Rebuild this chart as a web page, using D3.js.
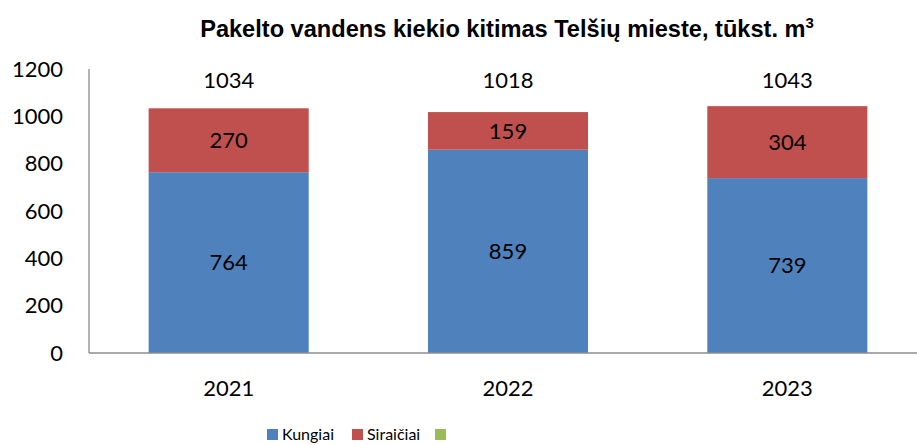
<!DOCTYPE html>
<html>
<head>
<meta charset="utf-8">
<script src="https://cdn.jsdelivr.net/npm/d3@7"></script>
<style>
  body { margin: 0; background: #fff; }
  svg { display: block; }
</style>
</head>
<body>
<svg id="chart" width="917" height="445"></svg>
<script>
const years = ['2021', '2022', '2023'];
const kungiai = [764, 859, 739];
const siraiciai = [270, 159, 304];
const totals = [1034, 1018, 1043];
const yTicks = [0, 200, 400, 600, 800, 1000, 1200];

const svg = d3.select('#chart');
const labelFont = 'Lato, "Open Sans", sans-serif';

const x = d3.scaleBand()
  .domain(years)
  .range([89, 927])
  .paddingInner(0.427)
  .paddingOuter(0.2135);
const y = d3.scaleLinear().domain([0, 1200]).range([353, 69]);

// title
const title = svg.append('text')
  .attr('x', 507)
  .attr('y', 37)
  .attr('text-anchor', 'middle')
  .attr('font-family', '"Liberation Sans", Arial, sans-serif')
  .attr('font-weight', 'bold')
  .attr('font-size', 23.6)
  .attr('fill', '#000');
title.append('tspan').text('Pakelto vandens kiekio kitimas Telšių mieste, tūkst. m');
title.append('tspan').attr('dy', -9).attr('font-size', 15).text('3');

// stacked bars
const rows = years.map((yr, i) => ({ year: yr, k: kungiai[i], s: siraiciai[i], t: totals[i] }));

svg.selectAll('.bar-k')
  .data(rows)
  .enter()
  .append('rect')
  .attr('x', d => x(d.year))
  .attr('width', x.bandwidth())
  .attr('y', d => y(d.k))
  .attr('height', d => y(0) - y(d.k))
  .attr('fill', '#4F81BD');

svg.selectAll('.bar-s')
  .data(rows)
  .enter()
  .append('rect')
  .attr('x', d => x(d.year))
  .attr('width', x.bandwidth())
  .attr('y', d => y(d.k + d.s))
  .attr('height', d => y(d.k) - y(d.k + d.s))
  .attr('fill', '#C0504D');

// axes (lines only, no ticks)
svg.append('line')
  .attr('x1', 89).attr('x2', 89)
  .attr('y1', y(1200)).attr('y2', y(0))
  .attr('stroke', '#8c8c8c').attr('stroke-width', 1.3);
svg.append('line')
  .attr('x1', 89).attr('x2', 917)
  .attr('y1', y(0)).attr('y2', y(0))
  .attr('stroke', '#8c8c8c').attr('stroke-width', 1.3);

svg.selectAll('.ytick')
  .data(yTicks)
  .enter()
  .append('text')
  .attr('x', 63)
  .attr('y', d => y(d))
  .attr('dy', '0.35em')
  .attr('text-anchor', 'end')
  .attr('font-family', labelFont)
  .attr('font-size', 22)
  .text(d => d);

svg.selectAll('.xtick')
  .data(years)
  .enter()
  .append('text')
  .attr('x', d => x(d) + x.bandwidth() / 2)
  .attr('y', 396)
  .attr('text-anchor', 'middle')
  .attr('font-family', labelFont)
  .attr('font-size', 22)
  .text(d => d);

// segment labels
svg.selectAll('.lab-k')
  .data(rows)
  .enter()
  .append('text')
  .attr('x', d => x(d.year) + x.bandwidth() / 2)
  .attr('y', d => (y(0) + y(d.k)) / 2)
  .attr('dy', '0.35em')
  .attr('text-anchor', 'middle')
  .attr('font-family', labelFont)
  .attr('font-size', 22)
  .text(d => d.k);

svg.selectAll('.lab-s')
  .data(rows)
  .enter()
  .append('text')
  .attr('x', d => x(d.year) + x.bandwidth() / 2)
  .attr('y', d => (y(d.k) + y(d.k + d.s)) / 2)
  .attr('dy', '0.35em')
  .attr('text-anchor', 'middle')
  .attr('font-family', labelFont)
  .attr('font-size', 22)
  .text(d => d.s);

// totals sit in one row just below the top of the value axis
svg.selectAll('.lab-t')
  .data(rows)
  .enter()
  .append('text')
  .attr('x', d => x(d.year) + x.bandwidth() / 2)
  .attr('y', y(1200) + 19)
  .attr('text-anchor', 'middle')
  .attr('font-family', labelFont)
  .attr('font-size', 22)
  .text(d => d.t);

// legend
const legendItems = [
  { name: 'Kungiai', color: '#4F81BD', x: 267 },
  { name: 'Siraičiai', color: '#C0504D', x: 352 },
  { name: '', color: '#9BBB59', x: 435 }
];
const lg = svg.selectAll('.legend')
  .data(legendItems)
  .enter()
  .append('g')
  .attr('transform', d => `translate(${d.x},429)`);
lg.append('rect').attr('width', 11).attr('height', 11).attr('fill', d => d.color);
lg.append('text')
  .attr('x', 15)
  .attr('y', 11)
  .attr('font-family', labelFont)
  .attr('font-size', 16)
  .text(d => d.name);
</script>
</body>
</html>
